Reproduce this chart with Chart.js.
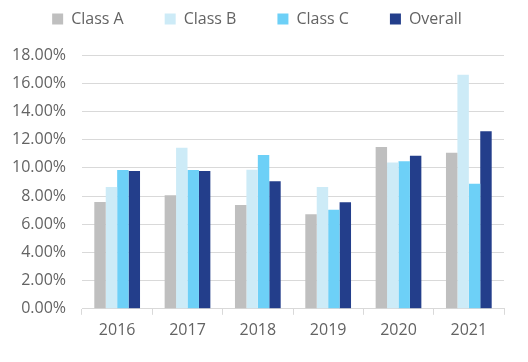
<!DOCTYPE html>
<html>
<head>
<meta charset="utf-8">
<script src="https://cdn.jsdelivr.net/npm/chart.js@4/dist/chart.umd.min.js"></script>
<style>
html,body{margin:0;padding:0;background:#fff;}
#wrap{width:528px;height:362px;position:relative;}
</style>
</head>
<body>
<div id="wrap"><canvas id="c" width="528" height="362"></canvas></div>
<script>
const categories = ["2016", "2017", "2018", "2019", "2020", "2021"];
const classA = [7.58, 8.05, 7.36, 6.70, 11.48, 11.06];
const classB = [8.64, 11.43, 9.87, 8.64, 10.37, 16.60];
const classC = [9.85, 9.85, 10.90, 7.03, 10.47, 8.86];
const overall = [9.78, 9.78, 9.05, 7.56, 10.85, 12.60];
const seriesNames = ["Class A", "Class B", "Class C", "Overall"];
const seriesColors = ["#BFBFBF", "#CDEBF7", "#6DD0F7", "#233E8B"];
const yTicks = [0, 2, 4, 6, 8, 10, 12, 14, 16, 18];

const seriesData = [classA, classB, classC, overall];
const font = {family: "'Open Sans', sans-serif", size: 16};
const textColor = "#636363";
const gridColor = "#D9D9D9";

// Legend: wide horizontal gaps in one row, compact vertical placement
const LEGEND_PAD = 41;
const legendTweak = {
  id: 'legendTweak',
  beforeInit(chart) {
    const lg = chart.legend;
    if (!lg) return;
    const f = lg.fit;
    lg.fit = function () {
      const mw = this.maxWidth;
      this.maxWidth = 2000;
      f.call(this);
      this.maxWidth = mw;
      this.width = mw;
      this.height = 55;
    };
  },
  afterLayout(chart) {
    const lg = chart.legend;
    if (!lg) return;
    lg.top -= (LEGEND_PAD - 11);
  }
};

new Chart(document.getElementById('c'), {
  type: 'bar',
  data: {
    labels: categories,
    datasets: seriesNames.map((n, i) => ({
      label: n,
      data: seriesData[i],
      backgroundColor: seriesColors[i],
      borderWidth: 0,
      barPercentage: 1,
      categoryPercentage: 0.65
    }))
  },
  plugins: [legendTweak],
  options: {
    responsive: false,
    animation: false,
    layout: {padding: {left: 10, right: 24, top: 0, bottom: 16}},
    plugins: {
      legend: {
        position: 'top',
        labels: {
          font: font, color: textColor,
          boxWidth: 11, boxHeight: 11, padding: LEGEND_PAD
        }
      },
      tooltip: {enabled: false}
    },
    scales: {
      x: {
        grid: {drawOnChartArea: false, drawTicks: true, tickLength: 6, color: gridColor},
        border: {color: gridColor},
        ticks: {font: font, color: textColor, padding: 6}
      },
      y: {
        min: 0, max: 18,
        afterBuildTicks: (s) => { s.ticks = yTicks.map(v => ({value: v})); },
        afterFit: (s) => { s.width = 72; },
        grid: {color: gridColor, drawTicks: false},
        border: {display: false},
        ticks: {font: font, color: textColor, padding: 16,
          callback: (v) => v.toFixed(2) + '%'}
      }
    }
  }
});
</script>
</body>
</html>
